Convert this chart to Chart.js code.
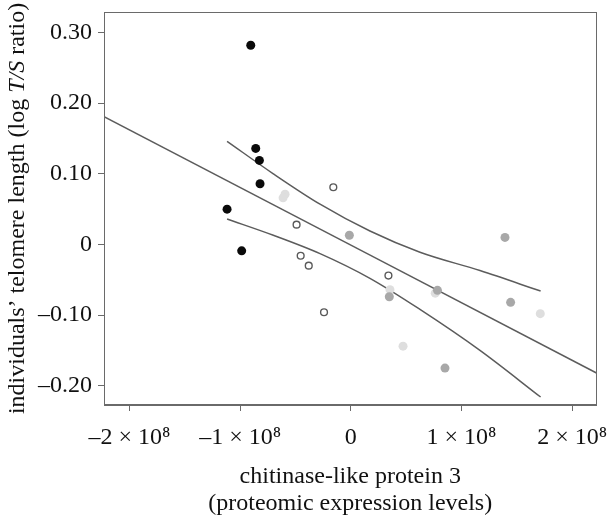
<!DOCTYPE html>
<html>
<head>
<meta charset="utf-8">
<script src="https://cdn.jsdelivr.net/npm/chart.js@4.4.1/dist/chart.umd.min.js"></script>
<style>
  body { margin: 0; background: #fff; }
  #chart { display: block; }
</style>
</head>
<body>
<canvas id="chart" width="610" height="518"></canvas>
<script>
// values (x in protein units, y in log T/S ratio)
const blackX = [-0.904e8, -0.859e8, -0.826e8, -0.820e8, -1.118e8, -0.986e8];
const blackY = [0.282, 0.136, 0.119, 0.086, 0.050, -0.009];

const lightX = [-0.594e8, -0.612e8, 0.354e8, 0.763e8, 0.472e8, 1.712e8];
const lightY = [0.071, 0.066, -0.064, -0.069, -0.144, -0.098];

const openX = [-0.158e8, -0.490e8, -0.453e8, -0.380e8, -0.242e8, 0.340e8];
const openY = [0.081, 0.028, -0.016, -0.030, -0.096, -0.044];

const greyX = [-0.013e8, 0.348e8, 0.783e8, 1.393e8, 1.444e8, 0.851e8];
const greyY = [0.013, -0.074, -0.065, 0.010, -0.082, -0.175];

// regression line and confidence band
const fitX = [-2.23e8, 2.22e8];
const fitY = [0.181, -0.182];
const bandX = [-1.118e8, -0.70e8, -0.278e8, 0.173e8, 0.625e8, 1.167e8, 1.715e8];
const upperY = [0.146, 0.100, 0.057, 0.019, -0.011, -0.037, -0.066];
const lowerY = [0.036, 0.013, -0.013, -0.048, -0.092, -0.150, -0.216];

const xTicks = [-2e8, -1e8, 0, 1e8, 2e8];
const xTickLabels = ['\u20132 \u00d7 10\u2078', '\u20131 \u00d7 10\u2078', '0', '1 \u00d7 10\u2078', '2 \u00d7 10\u2078'];
const yTicks = [-0.2, -0.1, 0, 0.1, 0.2, 0.3];
const yTickLabels = ['\u20130.20', '\u20130.10', '0', '0.10', '0.20', '0.30'];

const serif = '"Liberation Serif", "DejaVu Serif", serif';
const fontSize = 24;
const lineColor = '#5c5c5c';
const frameColor = '#6a6a6a';

function pts(xs, ys) {
    return xs.map((x, i) => ({ x: x, y: ys[i] }));
}

function dots(data, fill, stroke, r, bw) {
    return {
        type: 'scatter',
        data: data,
        backgroundColor: fill,
        borderColor: stroke,
        borderWidth: bw,
        pointRadius: r,
        pointHoverRadius: r
    };
}

function curve(data) {
    return {
        type: 'line',
        data: data,
        borderColor: lineColor,
        borderWidth: 1.5,
        pointRadius: 0,
        fill: false,
        cubicInterpolationMode: 'monotone'
    };
}

// no extra room for overhanging tick labels, the layout padding decides
function noPad(s) {
    s.paddingLeft = 0;
    s.paddingRight = 0;
    s.paddingTop = 0;
    s.paddingBottom = 0;
}

// box round the plot and the y title (with italic T/S)
const frameAndTitle = {
    id: 'frameAndTitle',
    afterDraw(chart) {
        const { ctx, chartArea: a } = chart;
        ctx.save();
        ctx.strokeStyle = frameColor;
        ctx.lineWidth = 1;
        ctx.strokeRect(Math.round(a.left) + 0.5, Math.round(a.top) + 0.5,
            Math.round(a.right - a.left) - 1, Math.round(a.bottom - a.top) - 1);

        const parts = [
            ['individuals\u2019 telomere length (log ', ''],
            ['T/S', 'italic '],
            [' ratio)', '']
        ];
        let total = 0;
        const widths = parts.map(p => {
            ctx.font = p[1] + fontSize + 'px ' + serif;
            const w = ctx.measureText(p[0]).width;
            total += w;
            return w;
        });
        ctx.translate(24, (a.top + a.bottom) / 2);
        ctx.rotate(-Math.PI / 2);
        ctx.fillStyle = '#111';
        ctx.textBaseline = 'alphabetic';
        ctx.textAlign = 'left';
        let x = -total / 2;
        parts.forEach((p, i) => {
            ctx.font = p[1] + fontSize + 'px ' + serif;
            ctx.fillText(p[0], x, 0);
            x += widths[i];
        });
        ctx.restore();
    }
};

new Chart(document.getElementById('chart'), {
    type: 'scatter',
    data: {
        datasets: [
            dots(pts(blackX, blackY), '#0a0a0a', '#0a0a0a', 4.5, 0),
            dots(pts(greyX, greyY), '#a8a8a8', '#a8a8a8', 4.5, 0),
            dots(pts(lightX, lightY), '#dedede', '#dedede', 4.5, 0),
            dots(pts(openX, openY), '#ffffff', '#5a5a5a', 3.4, 1.4),
            curve(pts(fitX, fitY)),
            curve(pts(bandX, upperY)),
            curve(pts(bandX, lowerY))
        ]
    },
    options: {
        responsive: false,
        animation: false,
        layout: { padding: { left: 0, right: 13.5, top: 12, bottom: 0 } },
        plugins: {
            legend: { display: false },
            tooltip: { enabled: false }
        },
        scales: {
            x: {
                type: 'linear',
                min: -2.23e8,
                max: 2.22e8,
                afterBuildTicks: s => { s.ticks = xTicks.map(v => ({ value: v })); },
                afterFit: s => { s.height = 113; noPad(s); },
                ticks: {
                    color: '#111',
                    font: { family: serif, size: fontSize },
                    padding: 12,
                    maxRotation: 0,
                    autoSkip: false,
                    callback: v => xTickLabels[xTicks.indexOf(v)]
                },
                grid: { drawOnChartArea: false, drawTicks: true, tickLength: 6, color: frameColor },
                border: { display: true, color: frameColor },
                title: {
                    display: true,
                    text: ['chitinase-like protein 3', '(proteomic expression levels)'],
                    color: '#111',
                    font: { family: serif, size: fontSize, lineHeight: 1.125 },
                    padding: { top: 0, bottom: 1 }
                }
            },
            y: {
                type: 'linear',
                min: -0.2273,
                max: 0.3291,
                afterBuildTicks: s => { s.ticks = yTicks.map(v => ({ value: v })); },
                afterFit: s => { s.width = 104; noPad(s); },
                ticks: {
                    color: '#111',
                    font: { family: serif, size: fontSize },
                    padding: 6,
                    autoSkip: false,
                    callback: v => yTickLabels[yTicks.indexOf(v)]
                },
                grid: { drawOnChartArea: false, drawTicks: true, tickLength: 6, color: frameColor },
                border: { display: true, color: frameColor }
            }
        }
    },
    plugins: [frameAndTitle]
});
</script>
</body>
</html>
